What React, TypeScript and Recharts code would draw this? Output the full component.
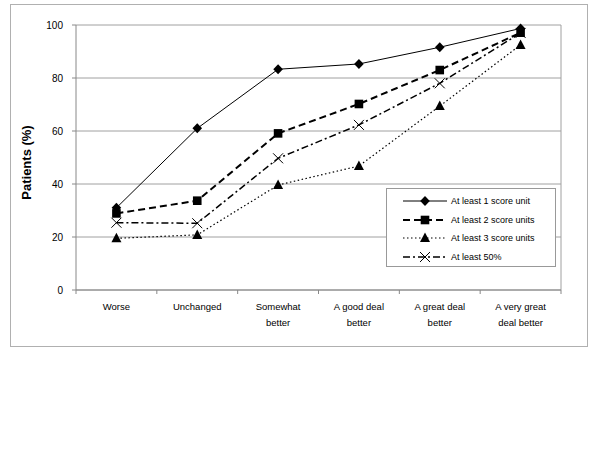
import React from 'react';
import { LineChart, Line, XAxis, YAxis, CartesianGrid, Legend, ReferenceLine } from 'recharts';

const categories = ['Worse', 'Unchanged', 'Somewhat\nbetter', 'A good deal\nbetter', 'A great deal\nbetter', 'A very great\ndeal better'];
const seriesNames = ['At least 1 score unit', 'At least 2 score units', 'At least 3 score units', 'At least 50%'];
const atLeast1 = [31, 61, 83.3, 85.3, 91.6, 98.7];
const atLeast2 = [28.9, 33.7, 59.1, 70.2, 83, 97.1];
const atLeast3 = [19.5, 20.8, 39.6, 46.8, 69.4, 92.5];
const atLeast50 = [25.4, 25.2, 49.7, 62.3, 78, 97];
const yTicks = [0, 20, 40, 60, 80, 100];

const FONT = 'Arial, "Liberation Sans", sans-serif';

const table = categories.map((c, i) => ({
  x: i + 0.5,
  s1: atLeast1[i],
  s2: atLeast2[i],
  s3: atLeast3[i],
  s4: atLeast50[i],
}));

const xTicks: number[] = [];
for (let i = 0; i <= categories.length * 2; i++) xTicks.push(i / 2);

const Diamond = ({ cx, cy }: any) => (
  <path d={`M${cx},${cy - 5} L${cx + 4.8},${cy} L${cx},${cy + 5} L${cx - 4.8},${cy} Z`} fill="#000" />
);
const Square = ({ cx, cy }: any) => <rect x={cx - 4.3} y={cy - 4.3} width={8.6} height={8.6} fill="#000" />;
const Triangle = ({ cx, cy }: any) => (
  <path d={`M${cx},${cy - 5.5} L${cx + 5},${cy + 4} L${cx - 5},${cy + 4} Z`} fill="#000" />
);
const Cross = ({ cx, cy }: any) => (
  <path d={`M${cx - 5},${cy - 5} L${cx + 5},${cy + 5} M${cx - 5},${cy + 5} L${cx + 5},${cy - 5}`} stroke="#000" strokeWidth={1} fill="none" />
);

const styles = [
  { key: 's1', dash: undefined as string | undefined, width: 1, Marker: Diamond },
  { key: 's2', dash: '7 4', width: 2, Marker: Square },
  { key: 's3', dash: '1.5 2.5', width: 1.2, Marker: Triangle },
  { key: 's4', dash: '7 3 2 3', width: 1.5, Marker: Cross },
];

const CatTick = (props: any) => {
  const { x, y, payload } = props;
  const v = payload.value;
  if (Number.isInteger(v)) {
    return <line x1={x} y1={y} x2={x} y2={y + 4} stroke="#888" />;
  }
  const lines = categories[Math.floor(v)].split('\n');
  return (
    <text x={x} y={y} textAnchor="middle" fontSize={9.5} fill="#000" fontFamily={FONT}>
      {lines.map((l, i) => (
        <tspan key={i} x={x} dy={i === 0 ? 20 : 16}>
          {l}
        </tspan>
      ))}
    </text>
  );
};

const LegendBox = () => (
  <div
    style={{
      width: 170,
      height: 79,
      border: '1px solid #999',
      background: '#fff',
      boxSizing: 'border-box',
      fontFamily: FONT,
      fontSize: 9,
      color: '#000',
      paddingTop: 2.5,
    }}
  >
    {styles.map((s, i) => (
      <div key={s.key} style={{ display: 'flex', alignItems: 'center', height: 18.7 }}>
        <svg width={64} height={18} style={{ display: 'block', flex: 'none' }}>
          <line x1={16} x2={60} y1={9} y2={9} stroke="#000" strokeWidth={s.width} strokeDasharray={s.dash} />
          <s.Marker cx={38} cy={9} />
        </svg>
        <span style={{ whiteSpace: 'nowrap' }}>{seriesNames[i]}</span>
      </div>
    ))}
  </div>
);

const YLabel = (p: any) => {
  const vb = p.viewBox || { x: 16, y: 25, width: 60, height: 265 };
  const x = vb.x + 15;
  const y = vb.y + vb.height / 2 + 5;
  return (
    <text x={x} y={y} transform={`rotate(-90, ${x}, ${y})`} textAnchor="middle" fontSize={13} fontWeight="bold" fontFamily={FONT} fill="#000">
      Patients (%)
    </text>
  );
};

export default function App() {
  return (
    <div style={{ position: 'absolute', left: 0, top: 0, width: 600, height: 450, background: '#fff' }}>
      <div style={{ position: 'absolute', left: 10, top: 4, width: 576, height: 341, border: '1px solid #b0b0b0' }} />
      <div style={{ position: 'absolute', left: 0, top: 0 }}>
        <LineChart width={600} height={450} data={table} margin={{ top: 25, right: 39, bottom: 120, left: 16 }}>
          <CartesianGrid vertical={false} stroke="#a0a0a0" />
          <ReferenceLine x={6} stroke="#a0a0a0" />
          <XAxis
            dataKey="x"
            type="number"
            domain={[0, 6]}
            ticks={xTicks}
            interval={0}
            tickSize={0}
            tickMargin={0}
            tickLine={false}
            axisLine={{ stroke: '#888' }}
            height={40}
            tick={<CatTick />}
          />
          <YAxis
            domain={[0, 100]}
            ticks={yTicks}
            interval={0}
            width={60}
            tickSize={4}
            tickMargin={9}
            axisLine={{ stroke: '#888' }}
            tickLine={{ stroke: '#888' }}
            tick={{ fontSize: 10, fill: '#000', fontFamily: FONT }}
            label={<YLabel />}
          />
          {styles.map((s) => (
            <Line
              key={s.key}
              dataKey={s.key}
              type="linear"
              stroke="#000"
              strokeWidth={s.width}
              strokeDasharray={s.dash}
              dot={(p: any) => <s.Marker key={`${s.key}-${p.index}`} cx={p.cx} cy={p.cy} />}
              activeDot={false}
              isAnimationActive={false}
            />
          ))}
          <Legend
            content={<LegendBox />}
            layout="vertical"
            align="center"
            verticalAlign="middle"
            wrapperStyle={{ left: 386, top: 188, width: 170 }}
          />
        </LineChart>
      </div>
    </div>
  );
}
